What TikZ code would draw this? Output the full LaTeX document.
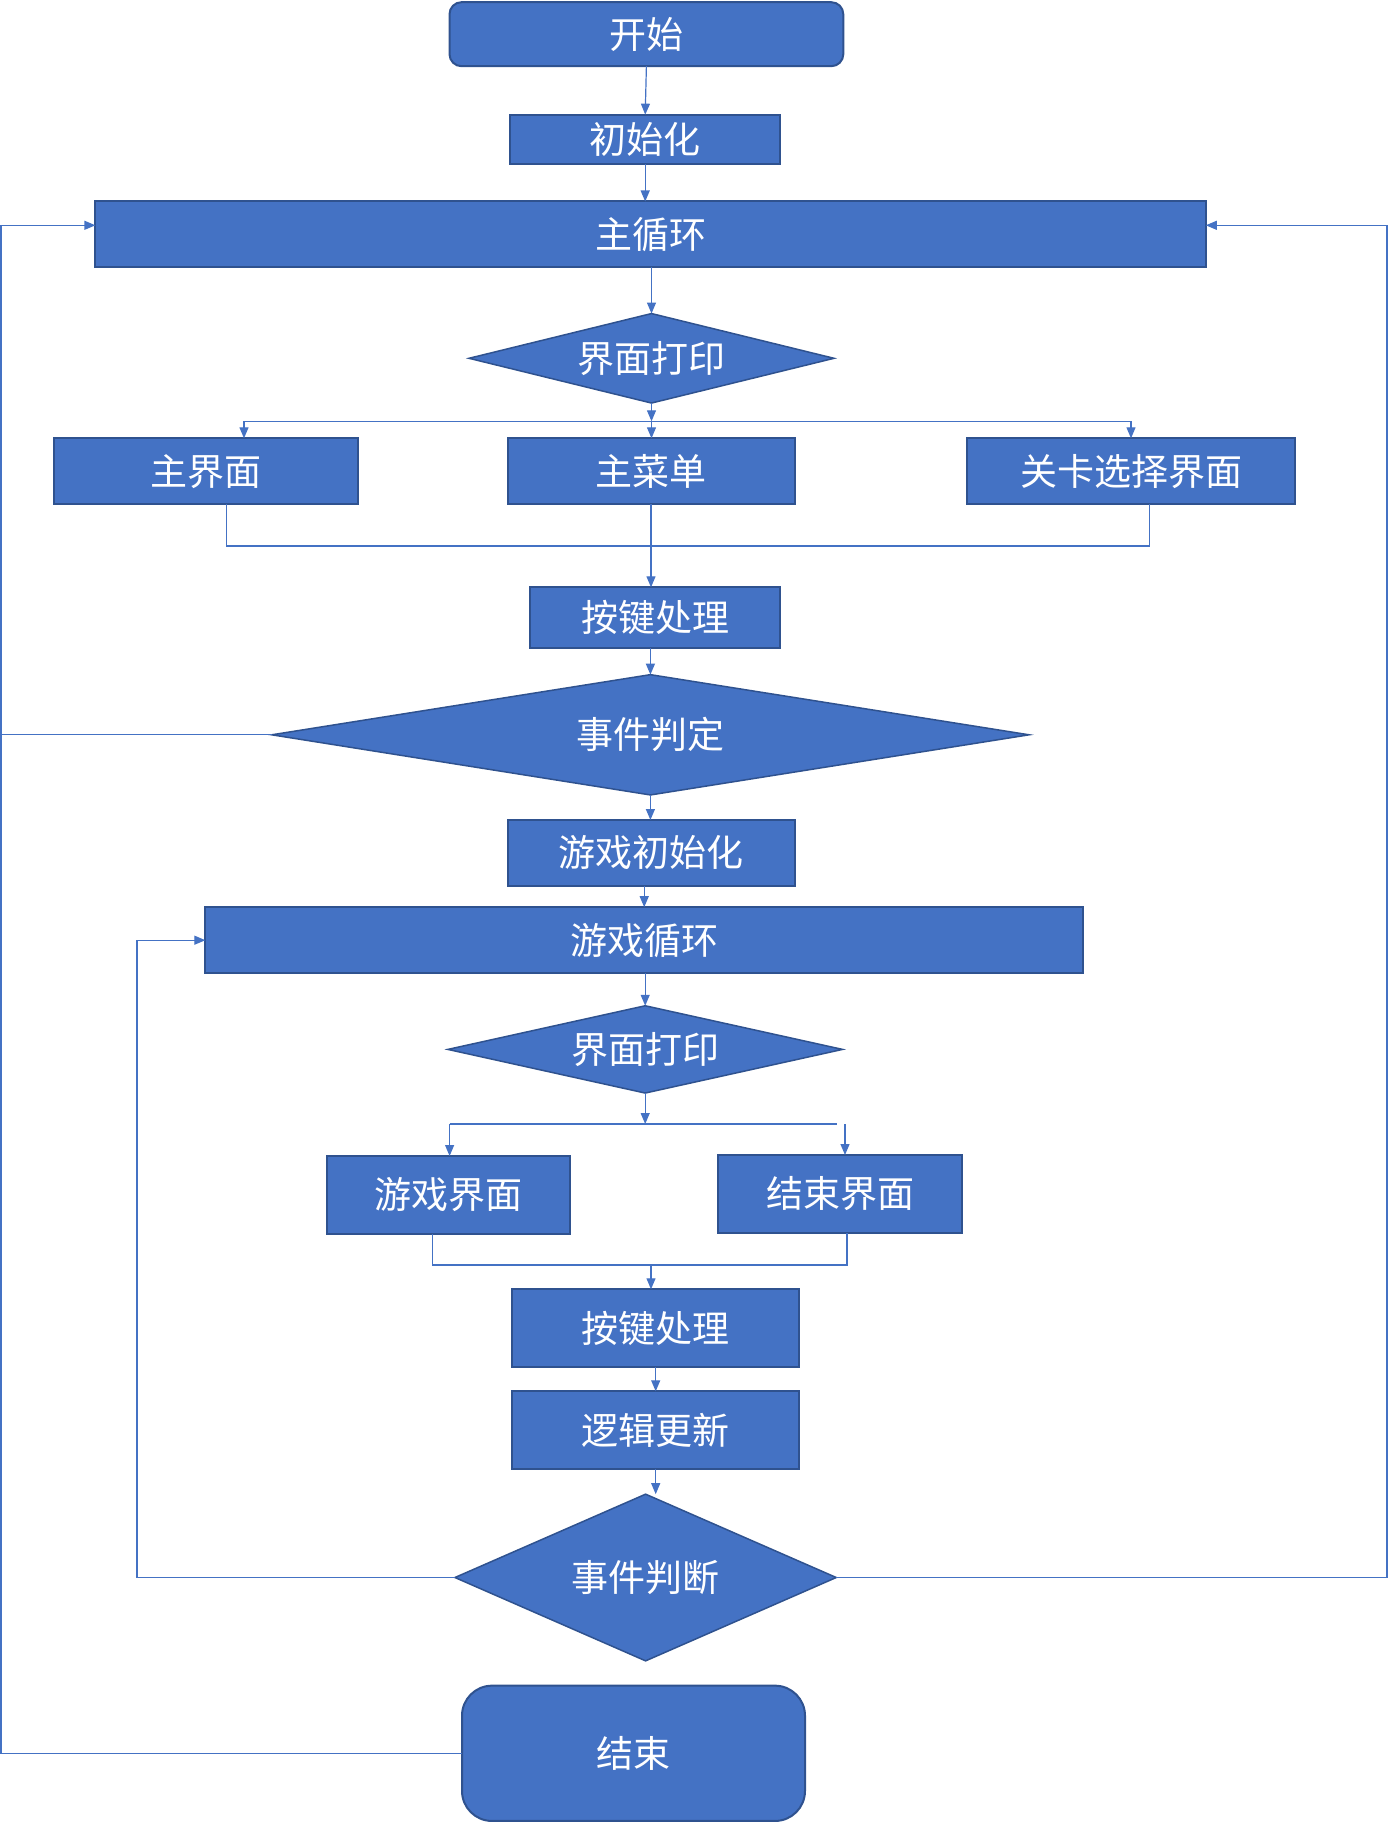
\documentclass[tikz,border=0pt]{standalone}
\usepackage{fontspec}
\newfontfamily\cjk{Noto Sans CJK SC}
\usetikzlibrary{shapes.geometric,arrows.meta}
\definecolor{boxfill}{HTML}{4472C4}
\definecolor{boxline}{HTML}{2F528F}
\tikzset{
 proc/.style={rectangle, draw=boxline, line width=2pt, fill=boxfill, text=white,
   font=\cjk\fontsize{37}{40}\selectfont, inner sep=0pt, outer sep=0pt},
 term/.style={proc, rounded corners=#1},
 dec/.style={diamond, draw=boxline, line width=1.5pt, fill=boxfill, text=white,
   font=\cjk\fontsize{37}{40}\selectfont, inner sep=0pt, outer sep=0pt},
 conn/.style={draw=boxfill, line width=1.2pt},
 arr/.style={conn, -{Triangle[length=11pt,width=9pt]}},
}
\begin{document}
\begin{tikzpicture}[x=1pt,y=-1pt]
\useasboundingbox (0,0) rectangle (1388,1822);
\node[term=12pt, minimum width=393.8pt, minimum height=64pt] (start) at (646.4,34.2) {开始};
\node[proc, minimum width=270.5pt, minimum height=49.5pt] (init) at (645.2,139.4) {初始化};
\node[proc, minimum width=1110.4pt, minimum height=65.6pt] (mloop) at (650.6,234.3) {主循环};
\node[dec, minimum width=365pt, minimum height=89.5pt, shape aspect=4.08] (pr1) at (651.5,358.3) {界面打印};
\node[proc, minimum width=304.5pt, minimum height=66pt] (zjm) at (206,471.3) {主界面};
\node[proc, minimum width=287pt, minimum height=66pt] (zcd) at (651,471.3) {主菜单};
\node[proc, minimum width=327.5pt, minimum height=66pt] (gk) at (1131,471.3) {关卡选择界面};
\node[proc, minimum width=250.5pt, minimum height=61pt] (aj1) at (655.2,617.8) {按键处理};
\node[dec, minimum width=757.3pt, minimum height=120.3pt, shape aspect=6.3] (sj1) at (650.4,734.8) {事件判定};
\node[proc, minimum width=287pt, minimum height=66pt] (yxcsh) at (651,853) {游戏初始化};
\node[proc, minimum width=877.7pt, minimum height=66pt] (yxxh) at (644.2,940.2) {游戏循环};
\node[dec, minimum width=394.7pt, minimum height=87.3pt, shape aspect=4.52] (pr2) at (645.2,1049.4) {界面打印};
\node[proc, minimum width=243.5pt, minimum height=78pt] (yxjm) at (448.3,1195) {游戏界面};
\node[proc, minimum width=243.5pt, minimum height=78pt] (jsjm) at (840,1194) {结束界面};
\node[proc, minimum width=286.6pt, minimum height=77.5pt] (aj2) at (655.7,1328) {按键处理};
\node[proc, minimum width=286.6pt, minimum height=78pt] (lj) at (655.7,1430.3) {逻辑更新};
\node[dec, minimum width=381.3pt, minimum height=166.7pt, shape aspect=2.29] (sj2) at (645.6,1577.5) {事件判断};
\node[term=30pt, minimum width=343pt, minimum height=135.3pt] (end) at (633.5,1753.3) {结束};

\coordinate (mlin) at (0,225.3);
\coordinate (b1) at (651.5,421.3);
\coordinate (b1l) at (244,421.3);
\coordinate (b1r) at (1131,421.3);
\coordinate (m1l) at (226.5,546);
\coordinate (m1r) at (1149.6,546);
\coordinate (b2) at (645.2,1124);
\coordinate (b2l) at (449.6,1124);
\coordinate (b2r) at (837,1124);
\coordinate (b2a) at (845,1124);
\coordinate (m2l) at (432.7,1265);
\coordinate (m2r) at (847,1265);
\coordinate (m2) at (651,1265);
\coordinate (L2) at (137,1577.5);
\coordinate (R1) at (1387,1577.5);
\coordinate (L1) at (1,1753.3);

\draw[arr] (start.south) -- (init.north);
\draw[arr] (init.south) -- (init.south |- mloop.north);
\draw[arr] (mloop.south -| pr1.north) -- (pr1.north);
\draw[arr] (pr1.south) -- (b1);
\draw[conn] (b1l) -- (b1r);
\draw[arr] (b1l) -- (b1l |- zjm.north);
\draw[arr] (b1) -- (b1 |- zcd.north);
\draw[arr] (b1r) -- (b1r |- gk.north);
\draw[conn] (m1l |- zjm.south) -- (m1l) -- (m1r) -- (m1r |- gk.south);
\draw[arr] (zcd.south) -- (zcd.south |- aj1.north);
\draw[arr] (sj1.north |- aj1.south) -- (sj1.north);
\draw[arr] (sj1.south) -- (sj1.south |- yxcsh.north);
\draw[arr] (yxxh.north |- yxcsh.south) -- (yxxh.north);
\draw[arr] (yxxh.south -| pr2.north) -- (pr2.north);
\draw[arr] (pr2.south) -- (b2);
\draw[conn] (b2l) -- (b2r);
\draw[arr] (b2l) -- (b2l |- yxjm.north);
\draw[arr] (b2a) -- (b2a |- jsjm.north);
\draw[conn] (m2l |- yxjm.south) -- (m2l) -- (m2r) -- (m2r |- jsjm.south);
\draw[arr] (m2) -- (m2 |- aj2.north);
\draw[arr] (aj2.south) -- (lj.north);
\draw[arr] (lj.south) -- (lj.south |- sj2.north);

\draw[arr] (sj2.west) -- (L2) -- (L2 |- yxxh.west) -- (yxxh.west);
\draw[arr] (sj2.east) -- (R1) -- (R1 |- mlin) -- (mloop.east |- mlin);
\draw[arr] (end.west) -- (L1) -- (L1 |- mlin) -- (mloop.west |- mlin);
\draw[conn] (sj1.west) -- (sj1.west -| L1);
\end{tikzpicture}
\end{document}
